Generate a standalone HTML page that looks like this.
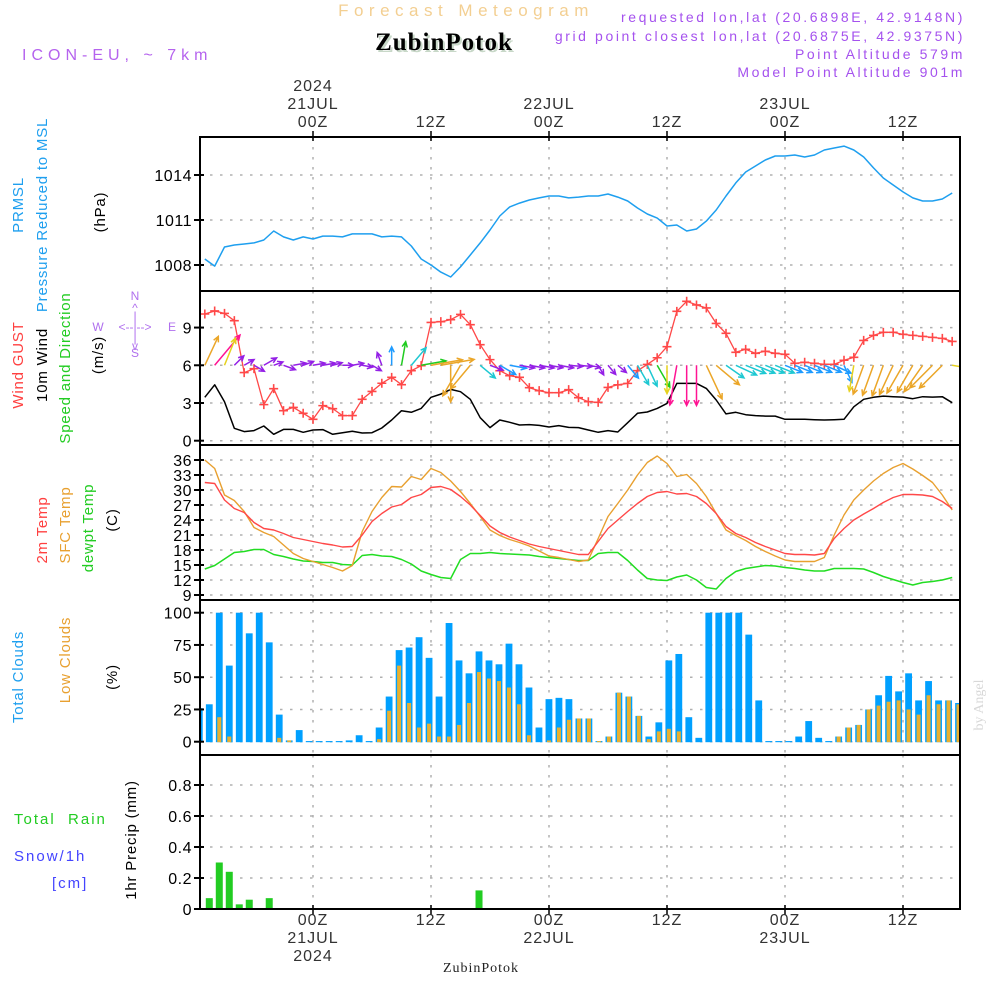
<!DOCTYPE html>
<html><head><meta charset="utf-8"><title>Meteogram ZubinPotok</title>
<style>
html,body{margin:0;padding:0;background:#fff;}
svg{display:block;font-family:"Liberation Sans",sans-serif;}
</style></head>
<body>
<svg id="chart" width="1000" height="1000" viewBox="0 0 1000 1000" xmlns="http://www.w3.org/2000/svg">
<rect x="0" y="0" width="1000" height="1000" fill="#fff"/>
<text x="466" y="16" text-anchor="middle" font-size="17" fill="#f3cf92" letter-spacing="5.5">Forecast Meteogram</text>
<text x="446" y="52" text-anchor="middle" font-size="25" font-weight="bold" font-family="Liberation Serif, serif" fill="#c8d8c8" letter-spacing="1">ZubinPotok</text>
<text x="444" y="50" text-anchor="middle" font-size="25" font-weight="bold" font-family="Liberation Serif, serif" fill="#000" letter-spacing="1">ZubinPotok</text>
<g font-size="14" fill="#a552ee" text-anchor="end" letter-spacing="2.6">
<text x="965" y="22">requested lon,lat (20.6898E, 42.9148N)</text>
<text x="965" y="41">grid point closest lon,lat (20.6875E, 42.9375N)</text>
<text x="965" y="59">Point Altitude 579m</text>
<text x="965" y="77">Model Point Altitude 901m</text>
</g>
<text x="22" y="60" font-size="16" fill="#b563ee" letter-spacing="5">ICON-EU, ~ 7km</text>

<g id="grid"></g>
<g id="marks"></g>
<g id="frame"></g>
<g id="labels"></g>

<!-- left titles -->
<g font-size="15" letter-spacing="0.8">
<text transform="translate(23,205) rotate(-90)" text-anchor="middle" fill="#1e9fef">PRMSL</text>
<text transform="translate(47,215) rotate(-90)" text-anchor="middle" fill="#1e9fef">Pressure Reduced to MSL</text>
<text transform="translate(105,212) rotate(-90)" text-anchor="middle" fill="#000">(hPa)</text>
</g>
<g font-size="15" letter-spacing="0.8">
<text transform="translate(23,365) rotate(-90)" text-anchor="middle" fill="#ff4040">Wind GUST</text>
<text transform="translate(47,365) rotate(-90)" text-anchor="middle" fill="#000">10m Wind</text>
<text transform="translate(70,368) rotate(-90)" text-anchor="middle" fill="#22cc22">Speed and Direction</text>
<text transform="translate(103,355) rotate(-90)" text-anchor="middle" fill="#000">(m/s)</text>
</g>
<g font-size="12" fill="#b070ee" text-anchor="middle">
<text x="135" y="300">N</text><text x="135" y="357">S</text>
<text x="98" y="331">W</text><text x="172" y="331">E</text>
<text x="135" y="331">&lt;--|--&gt;</text>
<text x="135" y="312">^</text><text x="135" y="320">|</text>
<text x="135" y="342">|</text><text x="135" y="350">v</text>
</g>
<g font-size="15" letter-spacing="0.8">
<text transform="translate(47,530) rotate(-90)" text-anchor="middle" fill="#ff4040">2m Temp</text>
<text transform="translate(70,525) rotate(-90)" text-anchor="middle" fill="#e8a030">SFC Temp</text>
<text transform="translate(93,528) rotate(-90)" text-anchor="middle" fill="#22cc22">dewpt Temp</text>
<text transform="translate(117,520) rotate(-90)" text-anchor="middle" fill="#000">(C)</text>
</g>
<g font-size="15" letter-spacing="0.8">
<text transform="translate(23,677) rotate(-90)" text-anchor="middle" fill="#1e9fef">Total Clouds</text>
<text transform="translate(70,660) rotate(-90)" text-anchor="middle" fill="#e8a030">Low Clouds</text>
<text transform="translate(117,677) rotate(-90)" text-anchor="middle" fill="#000">(%)</text>
</g>
<g font-size="15">
<text x="14" y="824" fill="#22cc22" letter-spacing="2">Total&#160;&#160;Rain</text>
<text x="14" y="861" fill="#4444ff" letter-spacing="2">Snow/1h</text>
<text x="52" y="888" fill="#4444ff" letter-spacing="2">[cm]</text>
<text transform="translate(136,840) rotate(-90)" text-anchor="middle" fill="#000" letter-spacing="0.8">1hr Precip (mm)</text>
</g>
<text x="481" y="972" text-anchor="middle" font-size="14" font-family="Liberation Serif, serif" fill="#222" letter-spacing="1">ZubinPotok</text>
<text transform="translate(983,705) rotate(-90)" text-anchor="middle" font-size="14" font-family="Liberation Serif, serif" fill="#d8d8d8">by Angel</text>
</svg>
<script>
// ---------- data ----------
const pressure = [1008.4,1007.93,1009.2,1009.33,1009.4,1009.47,1009.67,1010.27,1009.87,1009.67,
1009.87,1009.73,1009.93,1009.93,1009.87,1010.07,1010.07,1010.07,1009.87,1009.93,
1009.87,1009.27,1008.4,1008.0,1007.53,1007.2,1007.87,1008.67,1009.47,1010.33,
1011.27,1011.87,1012.13,1012.33,1012.47,1012.6,1012.6,1012.47,1012.53,1012.6,
1012.6,1012.73,1012.53,1012.27,1011.8,1011.4,1011.13,1010.6,1010.67,1010.27,
1010.4,1010.93,1011.67,1012.6,1013.47,1014.2,1014.6,1015.0,1015.27,1015.27,
1015.33,1015.2,1015.33,1015.67,1015.8,1015.93,1015.67,1015.2,1014.47,1013.8,
1013.33,1012.87,1012.47,1012.27,1012.27,1012.4,1012.8];
const windGust = [10.08,10.32,10.13,9.55,5.42,5.73,2.87,4.14,2.39,2.65,2.18,1.70,2.79,2.55,2.0,2.0,3.29,3.92,4.57,5.04,4.46,5.57,5.97,9.41,9.47,9.63,10.05,9.23,7.64,6.45,5.57,5.17,5.04,4.22,3.98,3.82,3.82,4.06,3.42,3.1,
3.05,4.24,4.45,4.56,5.57,6.07,6.6,7.48,10.29,11.09,10.8,10.56,9.33,8.54,7.03,7.27,6.95,7.11,6.95,6.87,6.16,6.24,6.16,6.08,6.08,6.4,6.63,7.98,8.38,8.62,8.62,8.46,8.38,8.30,8.22,8.14,7.90];
const wind10 = [3.45,4.45,3.10,0.99,0.72,0.80,1.17,0.51,0.90,0.90,0.67,0.85,0.88,0.51,0.64,0.75,0.61,0.64,1.01,1.65,2.39,2.26,2.57,3.45,3.71,4.08,3.90,3.29,1.83,1.04,1.65,1.46,1.25,1.28,1.22,1.09,1.20,1.06,1.04,0.85,
0.67,0.80,0.69,1.43,2.18,2.28,2.57,2.97,4.56,4.56,4.56,4.16,3.24,2.13,2.26,2.07,2.0,1.96,1.96,1.70,1.70,1.70,1.67,1.65,1.67,1.70,2.70,3.29,3.45,3.55,3.50,3.47,3.34,3.50,3.47,3.50,3.02];
const windDir = [25,40,22,45,60,120,60,70,110,80,70,80,80,75,90,80,100,120,-20,0,10,40,80,80,80,180,210,220,130,110,120,100,100,100,100,100,100,95,95,100,
150,140,130,140,150,155,150,180,190,180,180,155,130,125,115,112,112,112,112,112,112,112,112,112,115,155,190,200,200,200,205,210,210,215,225,225,100];
const temp2m = [31.5,31.3,28.0,26.3,25.5,23.5,22.3,22.0,21.3,20.5,20.1,19.7,19.3,19.0,18.6,18.7,21.0,23.7,25.3,26.6,27.1,28.5,29.1,30.5,30.7,30.1,28.7,27.0,24.9,22.8,21.5,20.6,19.9,19.2,18.7,18.3,17.9,17.5,17.1,17.1,
19.7,22.3,24.0,25.7,27.3,28.7,29.5,29.7,29.2,29.3,28.7,27.3,25.3,22.7,21.3,20.5,19.5,18.7,18.0,17.3,17.1,17.1,17.0,17.3,20.3,22.3,24.0,25.2,26.3,27.5,28.5,29.1,29.1,29.0,28.7,27.7,26.3];
const tempSfc = [36.0,34.3,29.0,27.9,25.7,22.5,21.5,20.7,19.0,17.3,16.3,15.7,15.1,14.5,13.8,14.9,21.7,25.7,28.5,30.7,30.6,32.7,32.1,34.3,33.5,31.8,29.7,27.3,24.7,22.0,20.9,20.1,19.5,18.8,17.8,16.8,16.5,16.1,15.7,16.0,
20.3,24.7,27.3,30.0,33.0,35.5,36.8,35.3,32.7,33.1,31.3,28.7,25.3,22.0,20.9,19.9,18.7,17.7,16.8,16.0,15.7,15.7,15.7,16.5,21.0,25.0,28.0,30.0,31.8,33.3,34.5,35.3,34.2,32.9,31.5,29.0,26.0];
const dewpt = [14.2,14.9,16.2,17.5,17.7,18.1,18.1,17.1,16.7,16.2,15.8,15.7,15.5,15.5,15.1,15.0,16.9,17.1,16.8,16.7,16.1,15.2,13.8,13.1,12.5,12.3,16.1,17.3,17.3,17.5,17.3,17.2,17.1,17.0,16.7,16.5,16.3,16.1,15.9,15.9,
17.3,17.5,17.5,15.9,14.0,12.3,12.0,11.9,12.6,13.0,12.0,10.5,10.2,12.3,13.7,14.3,14.6,14.9,14.8,14.5,14.3,14.0,13.8,13.8,14.3,14.3,14.3,14.2,13.5,12.7,12.1,11.5,11.0,11.5,11.7,12.0,12.5];
const totalClouds = [26,29,100,59,100,84,100,77,21,1,9,0.5,0.5,0.5,0.5,1,5,0.5,11,35,71,73,81,65,35,92,63,53,70,63,60,76,60,42,11,33,34,33,18,18,0.5,4,38,35,20,4,15,63,68,19,3,100,100,100,100,83,32,0.5,0.5,0.5,4,16,3,0.5,4,11,13,25,36,51,39,53,32,47,32,32,30];
const lowClouds = [0,0,19,4,0,0,0,0,3,1,0,0,0,0,0,0,0,0,2,24,59,30,11,14,4,4,13,30,54,49,47,42,29,5,0,1,11,17,18,18,0.5,4,38,35,20,2,8,10,8,0,0,0,0,0,0,0,0,0,0,0,0,0,0,0,4,11,13,25,28,31,32,25,21,36,29,32,29];
const precip = [0,0.07,0.30,0.24,0.03,0.06,0,0.07,0,0,0,0,0,0,0,0,0,0,0,0,0,0,0,0,0,0,0,0,0.12,0,0,0,0,0,0,0,0,0,0,0,0,0,0,0,0,0,0,0,0,0,0,0,0,0,0,0,0,0,0,0,0,0,0,0,0,0,0,0,0,0,0,0,0,0,0,0,0];
const timeTickHours = [0,12,24,36,48,60];
const timeTickTop = [["2024","21JUL","00Z"],["12Z"],["22JUL","00Z"],["12Z"],["23JUL","00Z"],["12Z"]];
const timeTickBottom = [["00Z","21JUL","2024"],["12Z"],["00Z","22JUL"],["12Z"],["00Z","23JUL"],["12Z"]];
const pTicks = [1008,1011,1014];
const wTicks = [0,3,6,9];
const tTicks = [9,12,15,18,21,24,27,30,33,36];
const cTicks = [0,25,50,75,100];
const rTicks = [0.2,0.4,0.6,0.8];
const rTickLabels = ["0","0.2","0.4","0.6","0.8"];

// ---------- scales ----------
const X0 = 200, X1 = 960;
function xTime(h){ return 313 + h*118/12; }
function xLine(i){ return xTime(-11 + i); }
function xBar(k){ return 199.3 + k*9.99; }
function yP(v){ return 265 - (v-1008)*15; }
function yW(v){ return 440.7 - v*12.57; }
function yT(v){ return 460 + (36-v)*5; }
function yC(v){ return 741.7 - v*1.29; }
function yR(v){ return 909 - v*155; }
const panels = [[137,291],[291,445],[445,600],[600,755],[755,909]];

const NS = "http://www.w3.org/2000/svg";
function el(parent, tag, attrs, text){
  const e = document.createElementNS(NS, tag);
  for (const k in attrs) e.setAttribute(k, attrs[k]);
  if (text !== undefined) e.textContent = text;
  parent.appendChild(e);
  return e;
}
const grid = document.getElementById('grid');
const marks = document.getElementById('marks');
const frame = document.getElementById('frame');
const labels = document.getElementById('labels');

const defs = el(document.getElementById('chart'), 'defs', {});
const cp = el(defs, 'clipPath', {id:'plotclip'});
el(cp, 'rect', {x:X0, y:137, width:X1-X0, height:772});
marks.setAttribute('clip-path','url(#plotclip)');

// ---------- grid ----------
const gs = {stroke:'#b0b0b0','stroke-width':1.5,'stroke-dasharray':'2.5,7.5',fill:'none'};
timeTickHours.forEach(h=>{
  panels.forEach(p=>{
    const g = el(grid,'line',Object.assign({x1:xTime(h),x2:xTime(h),y1:p[0],y2:p[1]},gs));
    
    
  });
});
function hGrid(ticks, yf, name){
  ticks.forEach(v=>{
    const g = el(grid,'line',Object.assign({x1:X0,x2:X1,y1:yf(v),y2:yf(v)},gs));
    
    
  });
}
hGrid(pTicks,yP,'pressure-gridline');
hGrid(wTicks,yW,'wind-gridline');
hGrid(tTicks,yT,'temp-gridline');
hGrid(cTicks,yC,'cloud-gridline');
hGrid([0].concat(rTicks),yR,'precip-gridline');

// ---------- y tick labels ----------
function yLabels(ticks, yf, fmt, name){
  ticks.forEach((v,i)=>{
    const t = el(labels,'text',{x:192,y:yf(v)+6,'text-anchor':'end','font-size':16,fill:'#000','letter-spacing':0.5}, fmt(v,i));
    
    
    const tk = el(frame,'line',{x1:194,x2:204,y1:yf(v),y2:yf(v),stroke:'#000','stroke-width':2});
    
    
  });
}
yLabels(pTicks,yP,v=>String(v),'pressure-tick');
yLabels(wTicks,yW,v=>String(v),'wind-tick');
yLabels(tTicks,yT,v=>String(v),'temp-tick');
yLabels(cTicks,yC,v=>String(v),'cloud-tick');
yLabels([0].concat(rTicks),yR,(v,i)=>rTickLabels[i],'precip-tick');

// ---------- time labels ----------
timeTickHours.forEach((h,i)=>{
  const top = timeTickTop[i];
  top.forEach((s,j)=>{
    const t = el(labels,'text',{x:xTime(h),y:127-(top.length-1-j)*18,'text-anchor':'middle','font-size':16,fill:'#333','letter-spacing':1}, s);
    
    
  });
  timeTickBottom[i].forEach((s,j)=>{
    const t = el(labels,'text',{x:xTime(h),y:925+j*18,'text-anchor':'middle','font-size':16,fill:'#333','letter-spacing':1}, s);
    
    
  });
  const a = el(frame,'line',{x1:xTime(h),x2:xTime(h),y1:131,y2:141,stroke:'#000','stroke-width':1.5});
  
  
  const b = el(frame,'line',{x1:xTime(h),x2:xTime(h),y1:905,y2:915,stroke:'#000','stroke-width':1.5});
  
  
});

// ---------- frame ----------
panels.forEach(p=>{
  const r = el(frame,'rect',{x:X0,y:p[0],width:X1-X0,height:p[1]-p[0],fill:'none',stroke:'#000','stroke-width':2});
  
  
});

// ---------- series ----------
function linePath(arr, yf, color, name, w){
  const d = arr.map((v,i)=>(i?'L':'M')+xLine(i).toFixed(1)+' '+yf(v).toFixed(1)).join(' ');
  const p = el(marks,'path',{d:d,fill:'none',stroke:color,'stroke-width':w||1.4,'stroke-linejoin':'round'});
  
  
}
linePath(pressure,yP,'#1e9fef','pressure-line',1.5);
linePath(wind10,yW,'#000','wind-10m-line',1.5);
linePath(windGust,yW,'#ff4848','wind-gust-line',1.3);
windGust.forEach((v,i)=>{
  const x = xLine(i), y = yW(v);
  const m = el(marks,'path',{d:`M${x-4.5} ${y}H${x+4.5}M${x} ${y-4.5}V${y+4.5}`,stroke:'#ff4848','stroke-width':1.6});
  
  
});
function arrowColor(v){
  if (v<1.3) return '#9420e6';
  if (v<1.8) return '#1e9bff';
  if (v<2.3) return '#1ec8d2';
  if (v<2.7) return '#20cc20';
  if (v<3.2) return '#e6d21e';
  if (v<4.3) return '#eba628';
  return '#ff1493';
}
windDir.forEach((deg,i)=>{
  const v = wind10[i];
  const len = 6 + v*7.5;
  const a = deg*Math.PI/180;
  const x0 = xLine(i), y0 = yW(6);
  const x1 = x0 + Math.sin(a)*len, y1 = y0 - Math.cos(a)*len;
  const h = 6, s = 0.45;
  const hx1 = x1 - Math.sin(a-s)*h, hy1 = y1 + Math.cos(a-s)*h;
  const hx2 = x1 - Math.sin(a+s)*h, hy2 = y1 + Math.cos(a+s)*h;
  const c = arrowColor(v);
  const ar = el(marks,'path',{d:`M${x0} ${y0}L${x1} ${y1}M${hx1} ${hy1}L${x1} ${y1}L${hx2} ${hy2}`,stroke:c,'stroke-width':1.5,fill:'none'});
  
  
});
linePath(dewpt,yT,'#22dd22','dewpoint-line',1.5);
linePath(tempSfc,yT,'#e8a030','sfc-temp-line',1.4);
linePath(temp2m,yT,'#ff4848','temp-2m-line',1.4);

totalClouds.forEach((v,k)=>{
  const x = xBar(k);
  const b = el(marks,'rect',{x:x-3.4,y:yC(v),width:6.8,height:yC(0)-yC(v)+0.5,fill:'#00a0ff'});
  
  
});
lowClouds.forEach((v,k)=>{
  if (v<=0) return;
  const x = xBar(k);
  const b = el(marks,'rect',{x:x-2,y:yC(v),width:4,height:yC(0)-yC(v)+0.5,fill:'#e8b030'});
  
  
});
precip.forEach((v,k)=>{
  if (v<=0) return;
  const x = xBar(k);
  const b = el(marks,'rect',{x:x-3.5,y:yR(v),width:7,height:yR(0)-yR(v),fill:'#22cc22'});
  
  
});
</script>
</body></html>
